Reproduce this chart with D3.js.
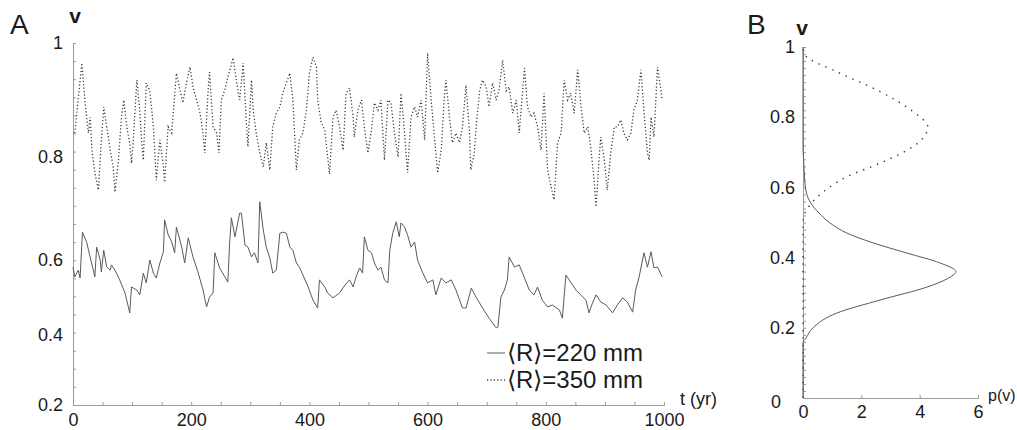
<!DOCTYPE html>
<html><head><meta charset="utf-8">
<script src="https://cdn.jsdelivr.net/npm/d3@7"></script>
<style>
body{margin:0;background:#fff;}
svg text{font-family:"Liberation Sans",Arial,Helvetica,sans-serif;fill:#1a1a1a;}
</style></head>
<body><svg id="c" width="1017" height="430"></svg>
<script>
// Panel A: time series, <R>=220 mm (solid)
const tSolid = [0,3,9,12,16,23,29,37,40,46,48,52,57,63,65,71,79,88,96,99,108,113,119,124,130,136,141,147,153,155,161,167,172,175,184,189,195,203,212,220,226,231,237,240,248,257,262,265,268,274,278,282,285,291,296,302,307,313,316,322,327,333,338,344,350,355,361,367,372,378,383,389,398,406,414,417,426,431,440,451,460,468,474,479,485,490,493,499,505,510,516,521,527,533,536,541,547,552,555,561,566,572,578,583,592,600,609,614,623,631,640,648,659,665,674,682,693,704,716,719,724,730,735,738,747,755,764,772,780,786,794,803,811,823,828,834,842,851,859,868,873,879,885,893,902,913,921,930,938,947,952,958,966,972,978,983,989,997];
const vSolid = [.581,.555,.573,.552,.654,.635,.606,.555,.625,.600,.568,.619,.582,.573,.587,.573,.547,.512,.459,.528,.520,.507,.565,.539,.600,.565,.552,.592,.616,.678,.649,.635,.614,.664,.625,.592,.643,.606,.565,.520,.475,.501,.512,.614,.579,.555,.541,.633,.682,.645,.668,.691,.691,.629,.625,.606,.614,.592,.713,.658,.625,.604,.565,.573,.652,.654,.652,.625,.619,.592,.581,.560,.528,.493,.472,.547,.528,.512,.499,.512,.533,.547,.528,.555,.579,.565,.645,.619,.614,.592,.573,.581,.547,.539,.619,.652,.674,.645,.672,.664,.649,.625,.635,.600,.565,.539,.547,.507,.552,.539,.547,.520,.472,.472,.525,.501,.472,.445,.419,.421,.501,.520,.547,.606,.581,.587,.552,.520,.507,.528,.493,.475,.480,.467,.445,.560,.541,.520,.507,.493,.459,.485,.507,.488,.480,.459,.480,.499,.488,.461,.520,.555,.614,.581,.616,.579,.581,.555];
// Panel A: time series, <R>=350 mm (dotted)
const tDotted = [3,15,20,26,29,32,37,43,48,52,57,63,68,71,77,82,86,91,96,99,102,108,113,116,119,124,130,136,141,147,153,155,161,167,175,181,186,192,198,203,209,215,220,223,229,231,237,243,247,251,257,262,271,277,282,288,293,296,302,305,310,316,322,327,333,338,344,350,355,361,367,372,378,383,389,395,400,406,412,414,420,426,434,440,445,451,457,462,468,474,476,482,488,493,499,505,510,516,521,527,533,538,544,550,555,561,566,572,578,583,589,595,600,606,612,617,623,628,631,637,642,648,654,659,665,671,673,679,682,688,693,699,704,710,716,721,727,733,738,744,750,755,764,769,775,780,786,792,797,803,809,814,820,826,831,837,842,848,854,859,865,871,876,882,885,890,893,899,904,910,916,921,927,932,938,944,949,955,961,966,972,975,978,983,989,994,997];
const vDotted = [.842,.965,.900,.842,.870,.812,.769,.736,.830,.888,.853,.812,.781,.732,.794,.870,.900,.853,.825,.788,.830,.935,.882,.830,.794,.930,.916,.853,.755,.830,.781,.751,.853,.842,.947,.918,.895,.930,.958,.923,.900,.877,.842,.807,.923,.949,.853,.842,.807,.900,.918,.940,.974,.930,.900,.965,.865,.818,.935,.882,.842,.807,.781,.825,.775,.853,.877,.888,.912,.930,.947,.900,.775,.830,.842,.882,.947,.975,.958,.900,.860,.847,.767,.870,.882,.853,.812,.912,.921,.870,.835,.882,.900,.853,.807,.847,.895,.882,.900,.794,.900,.895,.842,.800,.912,.842,.769,.870,.888,.870,.900,.830,.982,.900,.830,.769,.812,.900,.935,.870,.825,.842,.825,.853,.926,.842,.775,.807,.853,.916,.935,.923,.888,.930,.900,.918,.970,.916,.923,.877,.900,.842,.956,.888,.870,.877,.853,.812,.912,.775,.742,.717,.825,.842,.935,.900,.912,.877,.953,.895,.842,.853,.818,.750,.703,.794,.835,.794,.736,.807,.853,.853,.865,.842,.830,.842,.882,.900,.953,.882,.807,.794,.870,.835,.958,.923,.900];
const xTicksA = [0,200,400,600,800,1000];
const yTicksA = [0.2,0.4,0.6,0.8,1];
const legendLabels = ["\u27E8R\u27E9=220 mm","\u27E8R\u27E9=350 mm"];
// Panel B: stationary pdfs p(v)
const vPdfSolid = [0,0.157,0.17,0.2,0.242,0.279,0.316,0.34,0.36,0.385,0.413,0.442,0.47,0.499,0.527,0.556,0.584,0.63,0.68,0.715,1.0];
const pPdfSolid = [0,0,0.1,0.34,1.16,2.64,4.25,4.95,5.24,4.69,3.56,2.4,1.5,0.92,0.55,0.26,0.12,0.05,0.02,0,0];
const vPdfDotted = [0,0.5,0.527,0.55,0.587,0.63,0.669,0.716,0.772,0.816,0.873,0.93,0.977,1.0];
const pPdfDotted = [0,0,0.07,0.24,0.69,1.5,2.64,3.77,4.28,3.77,2.64,1.15,0.07,0];
const xTicksB = [0,2,4,6];
const yTicksB = [0,0.2,0.4,0.6,0.8,1];

const svg = d3.select("#c");
const axisCol = "#9a9a9a", lineCol = "#5a5a5a", dotCol = "#3a3a3a";
const fmt = d => String(+d.toFixed(2));

// ---------- Panel A ----------
const xA = d3.scaleLinear().domain([0,1000]).range([73,664]);
const yA = d3.scaleLinear().domain(yTicksA).range([405,335,260,157,43]);
const tickIdx = d3.scaleLinear().domain([0,20]).range([405,43]);
const gA = svg.append("g");

const yMinor = gA.append("g").attr("transform","translate(73,0)")
  .call(d3.axisRight(tickIdx).ticks(20).tickSize(3).tickFormat(""));
const yLab = gA.append("g").attr("transform","translate(73,0)")
  .call(d3.axisLeft(yA).tickValues(yTicksA).tickSize(0).tickPadding(10).tickFormat(fmt));
const xAx = gA.append("g").attr("transform","translate(0,405)")
  .call(d3.axisBottom(xA).tickValues(d3.range(0,1001,50)).tickSize(-3).tickPadding(8)
    .tickFormat(d=> xTicksA.includes(d) ? fmt(d) : ""));
[yMinor,yLab,xAx].forEach(g=>{
  g.select(".domain").attr("stroke",axisCol);
  g.selectAll(".tick line").attr("stroke",axisCol);
  g.selectAll("text").attr("font-size",18).attr("fill","#1a1a1a").attr("font-family",null);
});
yMinor.select(".domain").remove();

const lineA = d3.line().x(d=>xA(d[0])).y(d=>yA(d[1]));
gA.append("path").datum(d3.zip(tDotted,vDotted)).attr("d",lineA)
  .attr("fill","none").attr("stroke",dotCol).attr("stroke-width",1.3).attr("stroke-dasharray","1.2,2.2");
gA.append("path").datum(d3.zip(tSolid,vSolid)).attr("d",lineA)
  .attr("fill","none").attr("stroke",lineCol).attr("stroke-width",1);

gA.append("text").attr("x",10).attr("y",34).attr("font-size",28).text("A");
gA.append("text").attr("x",75).attr("y",23).attr("font-size",21).attr("font-weight","bold").attr("text-anchor","middle").text("v");
gA.append("text").attr("x",680).attr("y",405).attr("font-size",18).text("t (yr)");

const leg = gA.append("g");
legendLabels.forEach((lab,i)=>{
  const y = 353 + i*27;
  leg.append("line").attr("x1",487).attr("x2",505).attr("y1",y).attr("y2",y)
    .attr("stroke", i===0?lineCol:dotCol).attr("stroke-width", i===0?1:1.3)
    .attr("stroke-dasharray", i===0?null:"1.2,2.2");
  leg.append("text").attr("x",507).attr("y",y+8).attr("font-size",24).text(lab);
});

// ---------- Panel B ----------
const xB = d3.scaleLinear().domain([0,6]).range([803,978]);
const yB = d3.scaleLinear().domain([0,1]).range([398,47]);
const gB = svg.append("g");
const yBminor = gB.append("g").attr("transform","translate(803,0)")
  .call(d3.axisRight(yB).tickValues(d3.range(0,1.0001,0.02)).tickSize(3).tickFormat(""));
const yBlab = gB.append("g").attr("transform","translate(803,0)")
  .call(d3.axisLeft(yB).tickValues(yTicksB).tickSize(0).tickPadding(8).tickFormat(fmt));
const xBax = gB.append("g").attr("transform","translate(0,398)")
  .call(d3.axisBottom(xB).tickValues(xTicksB).tickSize(-3).tickPadding(7).tickFormat(fmt));
[yBminor,yBlab,xBax].forEach(g=>{
  g.select(".domain").attr("stroke",axisCol);
  g.selectAll(".tick line").attr("stroke",axisCol);
  g.selectAll("text").attr("font-size",18).attr("fill","#1a1a1a").attr("font-family",null);
});
yBminor.select(".domain").remove();
yBlab.selectAll(".tick text").filter(d=>d===0).attr("x",-22).attr("dy","0.5em");

const lineB = d3.line().x(d=>xB(d[0])).y(d=>yB(d[1])).curve(d3.curveMonotoneY);
gB.append("path").datum(d3.zip(pPdfDotted,vPdfDotted)).attr("d",lineB)
  .attr("fill","none").attr("stroke",dotCol).attr("stroke-width",1.4).attr("stroke-dasharray","1.4,6");
gB.append("path").datum(d3.zip(pPdfSolid,vPdfSolid)).attr("d",lineB)
  .attr("fill","none").attr("stroke",lineCol).attr("stroke-width",1);

gB.append("text").attr("x",747).attr("y",34).attr("font-size",28).text("B");
gB.append("text").attr("x",802).attr("y",35).attr("font-size",21).attr("font-weight","bold").attr("text-anchor","middle").text("v");
gB.append("text").attr("x",988).attr("y",401).attr("font-size",16).text("p(v)");
</script></body></html>
